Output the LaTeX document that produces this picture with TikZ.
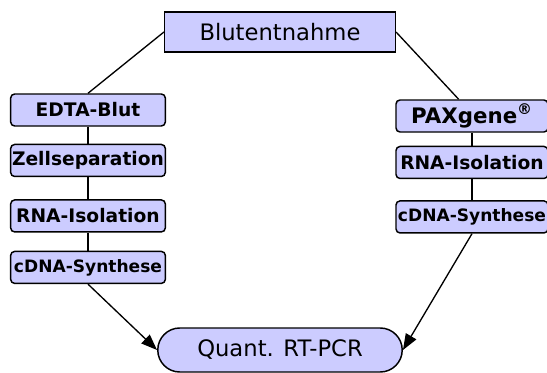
\documentclass[tikz,border=0pt]{standalone}
\usepackage{fontspec}
\setmainfont{DejaVu Sans}
\definecolor{boxfill}{RGB}{204,204,255}
\usetikzlibrary{positioning,arrows.meta,shapes.misc}

\begin{document}
\begin{tikzpicture}[x=0.75pt,y=-0.75pt,node distance=12pt,
    box/.style={rectangle,rounded corners=3pt,draw=black,line width=1.1pt,
                fill=boxfill,minimum height=24pt,inner sep=0.5pt,
                font=\fontsize{14}{16}\selectfont\bfseries},
    lbox/.style={box,minimum width=116pt},
    rbox/.style={box,minimum width=114pt},
    small/.style={font=\fontsize{12.8}{14}\selectfont\bfseries},
    start/.style={rectangle,draw=black,line width=1.1pt,fill=boxfill,
                  minimum width=173pt,minimum height=30pt,
                  font=\fontsize{17}{20}\selectfont},
    finish/.style={rounded rectangle,draw=black,line width=1.1pt,fill=boxfill,
                   minimum width=190pt,minimum height=33pt,
                   font=\fontsize{17}{20}\selectfont},
    conn/.style={black,line width=1pt},
    arr/.style={conn,-{Triangle[length=12pt,width=9pt]}}]
  \useasboundingbox (0,0) rectangle (547,372);

  \node[start] (blood) at (280,32) {Blutentnahme};

  % left branch
  \node[lbox] (edta) at (88,110) {EDTA-Blut};
  \node[lbox,below=12.75pt of edta] (cells) {Zellseparation};
  \node[lbox,below=16.5pt of cells] (lrna) {RNA-Isolation};
  \node[lbox,small,below=13.5pt of lrna] (lcdna) {cDNA-Synthese};

  % right branch
  \node[rbox,font=\fontsize{16}{18}\selectfont\bfseries] (pax) at (472,116)
    {PAXgene\textsuperscript{\textregistered}};
  \node[rbox,below=9.75pt of pax] (rrna) {RNA-Isolation};
  \node[rbox,small,below=15.75pt of rrna] (rcdna) {cDNA-Synthese};

  \node[finish] (pcr) at (280,350) {Quant. RT-PCR};

  \draw[conn] (blood.west) -- (edta.north);
  \draw[conn] (edta) -- (cells);
  \draw[conn] (cells) -- (lrna);
  \draw[conn] (lrna) -- (lcdna);
  \draw[conn] (blood.east) -- ([xshift=-10pt]pax.north);
  \draw[conn] (pax) -- (rrna);
  \draw[conn] (rrna) -- (rcdna);
  \draw[arr] (lcdna.south) -- (pcr.west);
  \draw[arr] (rcdna.south) -- (pcr.east);
\end{tikzpicture}
\end{document}
